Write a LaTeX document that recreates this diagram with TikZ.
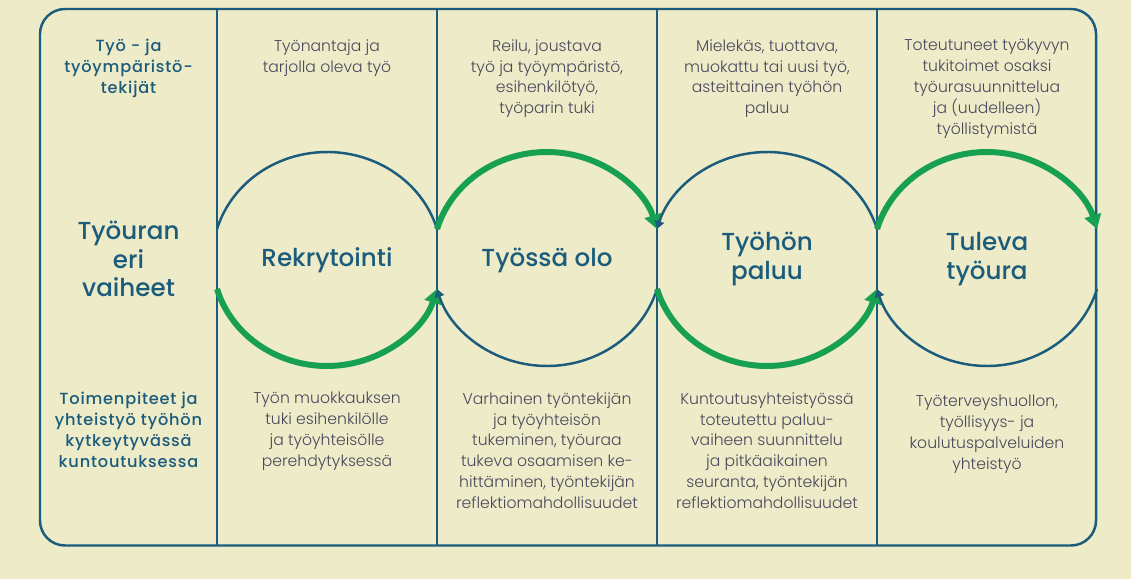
\documentclass[tikz,border=0pt]{standalone}
\usepackage{fontspec}
\setmainfont{Poppins}
\newfontfamily\keskifont{Poppins Medium}
\newfontfamily\vasenfont{Poppins Medium}[LetterSpace=5]
\newfontfamily\ohutfont{Poppins Light}
\usetikzlibrary{calc,arrows.meta}
\definecolor{paperi}{HTML}{EDEBC8}
\definecolor{viiva}{HTML}{1B5B7C}
\definecolor{vihrea}{HTML}{17A052}
\definecolor{harmaa}{HTML}{4A485C}
\def\vaihearc[#1](#2)(#3:#4){\draw[#1] ($(#2)+({114.6*cos(#3)},{107*sin(#3)})$) arc (#3:#4:2.292cm and 2.14cm);}

\tikzset{
	ohut/.style={draw=viiva, line width=1.4pt},
	paksu/.style={draw=vihrea, line width=3.4pt},
	ohutkarki/.style={ohut, -{Triangle[length=4.5pt, width=5.5pt]}},
	paksukarki/.style={paksu, -{Triangle[length=8pt, width=9.5pt]}},
	pieni/.style={text=harmaa, align=center, inner sep=0pt, anchor=north, font=\fontsize{8.9}{11.9}\selectfont\ohutfont},
	vasen/.style={pieni, text=viiva, font=\fontsize{9.2}{11.9}\selectfont\vasenfont},
	otsikko/.style={text=viiva, align=center, inner sep=0pt, font=\fontsize{14}{16.2}\selectfont\keskifont}
}

\begin{document}
\begin{tikzpicture}[x=0.02cm, y=0.02cm]
			%%%%% START %%%%%
			\fill[paperi] (0, 0) rectangle (1131, 579);
			\useasboundingbox (0, 0) rectangle (1131, 579);
			
			% kehys ja sarakkeet
			\draw[ohut, rounded corners=0.5cm] (40, 33.5) rectangle (1096, 570);
			\draw[ohut] (217, 33.5) -- (217, 570);
			\draw[ohut] (437, 33.5) -- (437, 570);
			\draw[ohut] (657, 33.5) -- (657, 570);
			\draw[ohut] (877, 33.5) -- (877, 570);
			
			% keskipisteet
			\coordinate (k1) at (327, 320);
			\coordinate (k2) at (547, 320);
			\coordinate (k3) at (767, 320);
			\coordinate (k4) at (987, 320);
			
			% kaaret
			\vaihearc[ohut](k1)(16.3:163.7);
			\vaihearc[paksukarki](k1)(196.3:343.7);
			\vaihearc[paksukarki](k2)(163.7:16.3);
			\vaihearc[ohutkarki](k2)(343.7:196.3);
			\vaihearc[ohutkarki](k3)(16.3:163.7);
			\vaihearc[paksukarki](k3)(196.3:343.7);
			\vaihearc[paksukarki](k4)(163.7:16.3);
			\vaihearc[ohutkarki](k4)(343.7:196.3);
			
			% otsikot
			\node[otsikko] (vaiheet) at (128.5, 320) {Työuran\\eri\\vaiheet};
			\node[otsikko] (rekry) at (327, 319) {Rekrytointi};
			\node[otsikko] (tyossa) at (547, 319) {Työssä olo};
			\node[otsikko] (paluu) at (k3) {Työhön\\paluu};
			\node[otsikko] (tuleva) at (k4) {Tuleva\\työura};
			
			% ylarivi
			\node[vasen] (tekijat) at (128.5, 540) {Työ - ja\\työympäristö-\\tekijät};
			\node[pieni] (ylaA) at (327, 540) {Työnantaja ja\\tarjolla oleva työ};
			\node[pieni] (ylaB) at (547, 540) {Reilu, joustava\\työ ja työympäristö,\\esihenkilötyö,\\työparin tuki};
			\node[pieni] (ylaC) at (767, 540) {Mielekäs, tuottava,\\muokattu tai uusi työ,\\asteittainen työhön\\paluu};
			\node[pieni] (ylaD) at (987, 540) {Toteutuneet työkyvyn\\tukitoimet osaksi\\työurasuunnittelua\\ja (uudelleen)\\työllistymistä};
			
			% alarivi
			\node[vasen] (toimet) at (128.5, 187) {Toimenpiteet ja\\yhteistyö työhön\\kytkeytyvässä\\kuntoutuksessa};
			\node[pieni] (alaA) at (327, 187) {Työn muokkauksen\\tuki esihenkilölle\\ja työyhteisölle\\perehdytyksessä};
			\node[pieni] (alaB) at (547, 187) {Varhainen työntekijän\\ja työyhteisön\\tukeminen, työuraa\\tukeva osaamisen ke-\\hittäminen, työntekijän\\reflektiomahdollisuudet};
			\node[pieni] (alaC) at (767, 187) {Kuntoutusyhteistyössä\\toteutettu paluu-\\vaiheen suunnittelu\\ja pitkäaikainen\\seuranta, työntekijän\\reflektiomahdollisuudet};
			\node[pieni] (alaD) at (987, 184) {Työterveyshuollon,\\työllisyys- ja\\koulutuspalveluiden\\yhteistyö};
			%%%%% END %%%%%
\end{tikzpicture}
\end{document}
